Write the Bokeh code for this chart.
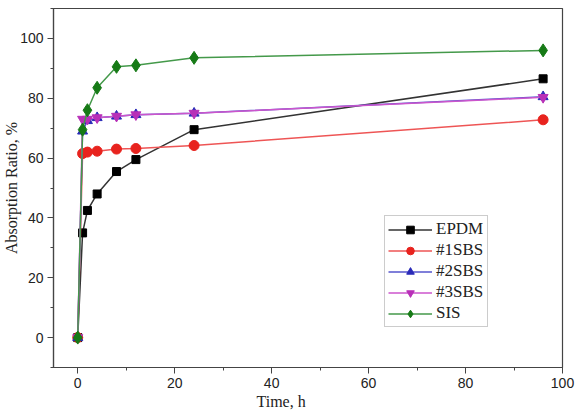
from bokeh.plotting import figure
from bokeh.models import Range1d, SingleIntervalTicker, Legend, LegendItem, Title
from bokeh.embed import file_html
from bokeh.resources import INLINE

time_h = [0, 1, 2, 4, 8, 12, 24, 96]
epdm = [0, 35, 42.5, 48, 55.5, 59.5, 69.5, 86.5]
sbs1 = [0, 61.5, 62, 62.3, 63, 63.2, 64.2, 72.8]
sbs2 = [0, 69, 72.5, 73.5, 74, 74.5, 75, 80.5]
sbs3 = [0, 73, 73, 73.5, 74, 74.5, 75, 80.3]
sis = [0, 69.5, 76, 83.5, 90.5, 91, 93.5, 96]

names = ["EPDM", "#1SBS", "#2SBS", "#3SBS", "SIS"]
series = [epdm, sbs1, sbs2, sbs3, sis]
line_colors = ["#333333", "#ee5555", "#5555cc", "#cc55cc", "#44994a"]
mark_colors = ["#000000", "#e8231e", "#2a2ab8", "#b830b8", "#167a16"]
markers = ["square", "circle", "triangle", "inverted_triangle", "diamond"]
sizes = [8, 10, 10, 10, 13]

p = figure(width=575, height=411, output_backend="svg", toolbar_location=None,
           x_range=Range1d(-5, 100), y_range=Range1d(-10, 110),
           min_border_left=52, min_border_right=13, min_border_top=8, min_border_bottom=44)
p.xgrid.visible = False
p.ygrid.visible = False
p.outline_line_color = "#444444"
p.outline_line_width = 1.2
p.background_fill_color = "white"

items = []
for name, ys, lc, mc, mk, sz in zip(names, series, line_colors, mark_colors, markers, sizes):
    r1 = p.line(time_h, ys, line_color=lc, line_width=1.5)
    r2 = p.scatter(time_h, ys, marker=mk, size=sz, fill_color=mc, line_color=mc)
    items.append(LegendItem(label=name, renderers=[r1, r2]))

for ax in (p.xaxis[0], p.yaxis[0]):
    ax.ticker = SingleIntervalTicker(interval=20, num_minor_ticks=2)
    ax.major_tick_in = 0
    ax.major_tick_out = 6
    ax.minor_tick_in = 0
    ax.minor_tick_out = 3
    ax.axis_line_color = "#444444"
    ax.axis_line_width = 1.2
    ax.major_tick_line_color = "#444444"
    ax.minor_tick_line_color = "#444444"
    ax.major_label_text_font = "Liberation Sans"
    ax.major_label_text_font_size = "14px"
    ax.major_label_text_color = "#222222"
    ax.axis_label_text_font = "Liberation Serif"
    ax.axis_label_text_font_size = "16px"
    ax.axis_label_text_font_style = "normal"
    ax.axis_label_text_color = "#222222"

p.xaxis.major_label_standoff = 4
p.yaxis.major_label_standoff = 4
p.yaxis.axis_label = "Absorption Ratio, %"
p.yaxis.axis_label_standoff = -3

p.add_layout(Title(text="Time, h", align="left", offset=203, text_font="Liberation Serif",
                   text_font_size="16px", text_font_style="normal", text_color="#222222",
                   standoff=0), "below")

legend = Legend(items=items, location=(331, 40), border_line_color="#999999",
                border_line_width=1, label_text_font="Liberation Serif",
                label_text_font_size="17px", label_text_color="#222222",
                glyph_width=44, glyph_height=19, label_height=19, spacing=1,
                padding=3, margin=0, label_standoff=4, label_width=48)
p.add_layout(legend)

open("out.html", "w").write(file_html(p, INLINE))
